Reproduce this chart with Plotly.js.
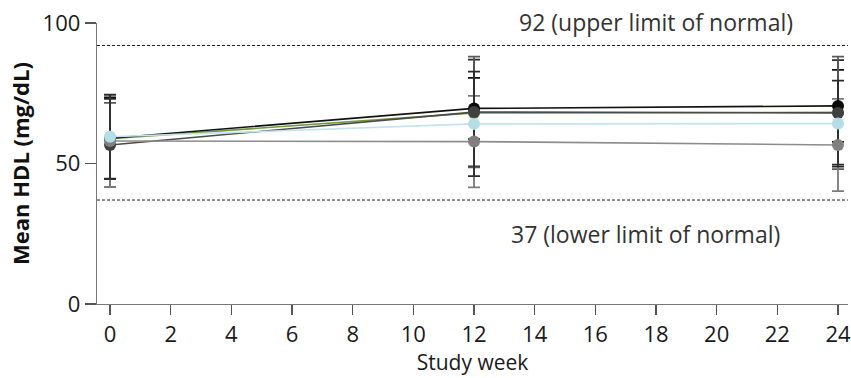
<!DOCTYPE html>
<html>
<head>
<meta charset="utf-8">
<script src="https://cdn.plot.ly/plotly-3.0.1.min.js"></script>
<style>
  html, body { margin: 0; padding: 0; background: #fff; }
  #chart { width: 851px; height: 378px; }
</style>
</head>
<body>
<div id="chart"></div>
<script>
// Study visits (weeks)
const weeks = [0, 12, 24];

// Mean HDL (mg/dL) per treatment group, with standard deviations
const groupNames = ["Group A", "Group B", "Group C", "Group D", "Group E"];
const hdlBlack     = [59.0, 69.6, 70.5];
const sdBlack      = [14.5, 10.9, 12.8];
const hdlDarkGray  = [56.6, 68.3, 68.0];
const sdDarkGray   = [15.0, 19.7, 20.0];
const hdlGreen     = [58.8, 68.0, 68.2];
const sdGreen      = [14.2, 19.0, 18.6];
const hdlGray      = [58.0, 57.8, 56.6];
const sdGray       = [16.4, 16.3, 16.4];
const hdlLightBlue = [59.5, 64.1, 64.2];
const sdLightBlue  = [15.0, 18.6, 15.3];

// Reference limits
const upperLimit = 92;
const lowerLimit = 37;
const upperLabel = "92 (upper limit of normal)";
const lowerLabel = "37 (lower limit of normal)";

const xTicks = [0, 2, 4, 6, 8, 10, 12, 14, 16, 18, 20, 22, 24];
const yTicks = [0, 50, 100];

const FONT = "Open Sans, DejaVu Sans, sans-serif";

// group definitions: name, means, sds, line colour, marker colour, error-bar colour
// (listed in drawing order: later groups sit on top)
const groups = [
  [groupNames[2], hdlGreen, sdGreen, "#6f9a3e", "#6f9a3e", "#2a2a2a"],
  [groupNames[0], hdlBlack, sdBlack, "#111111", "#0a0a0a", "#111111"],
  [groupNames[1], hdlDarkGray, sdDarkGray, "#4a4a4a", "#404040", "#5a5a5a"],
  [groupNames[3], hdlGray, sdGray, "#8c8c8c", "#808080", "#7a7a7a"],
  [groupNames[4], hdlLightBlue, sdLightBlue, "#c4e3ea", "#b5dde5", "#2a2a2a"]
];

// lines with error bars first
const lineTraces = groups.map(g => ({
  type: "scatter",
  mode: "lines",
  name: g[0],
  x: weeks,
  y: g[1],
  cliponaxis: false,
  line: { color: g[3], width: 1.6 },
  error_y: { type: "data", array: g[2], visible: true, color: g[5], thickness: 1.8, width: 6 },
  hoverinfo: "skip"
}));

// markers above every error bar
const markerTraces = groups.map(g => ({
  type: "scatter",
  mode: "markers",
  name: g[0],
  x: weeks,
  y: g[1],
  cliponaxis: false,
  marker: { color: g[4], size: 12, symbol: "circle" }
}));

const layout = {
  width: 851,
  height: 378,
  margin: { l: 97, r: 3, t: 23, b: 74 },
  paper_bgcolor: "#ffffff",
  plot_bgcolor: "#ffffff",
  showlegend: false,
  font: { family: FONT, color: "#1a1a1a", size: 22 },
  xaxis: {
    range: [-0.43, 24.33],
    tickvals: xTicks,
    ticktext: xTicks.map(String),
    showgrid: false,
    zeroline: false,
    showline: true,
    linecolor: "#777777",
    linewidth: 1.3,
    ticks: "outside",
    ticklen: 10,
    tickwidth: 1.2,
    tickcolor: "#555555",
    tickfont: { family: FONT, size: 22, color: "#1a1a1a" },
    title: { text: "Study week", font: { family: FONT, size: 21, color: "#1a1a1a" }, standoff: 0 }
  },
  yaxis: {
    range: [0, 100],
    tickvals: yTicks,
    ticktext: yTicks.map(String),
    showgrid: false,
    zeroline: false,
    showline: true,
    linecolor: "#777777",
    linewidth: 1.3,
    ticks: "outside",
    ticklen: 11,
    tickwidth: 1.2,
    tickcolor: "#555555",
    tickfont: { family: FONT, size: 22, color: "#1a1a1a" },
    title: { text: "<b>Mean HDL (mg/dL)</b>", font: { family: FONT, size: 22, color: "#111111" }, standoff: 6 }
  },
  shapes: [
    { type: "line", xref: "paper", x0: 0, x1: 1, yref: "y", y0: upperLimit, y1: upperLimit,
      line: { color: "#222222", width: 1, dash: "3px,2px" }, layer: "below" },
    { type: "line", xref: "paper", x0: 0, x1: 1, yref: "y", y0: lowerLimit, y1: lowerLimit,
      line: { color: "#222222", width: 1, dash: "3px,2px" }, layer: "below" }
  ],
  annotations: [
    { xref: "x", yref: "y", x: 18.0, y: upperLimit, yshift: 23, text: upperLabel, showarrow: false,
      font: { family: FONT, size: 23, color: "#333333" } },
    { xref: "x", yref: "y", x: 17.67, y: lowerLimit, yshift: -34, text: lowerLabel, showarrow: false,
      font: { family: FONT, size: 23, color: "#333333" } }
  ]
};

Plotly.newPlot("chart", lineTraces.concat(markerTraces), layout, { staticPlot: true, displayModeBar: false });
</script>
</body>
</html>
